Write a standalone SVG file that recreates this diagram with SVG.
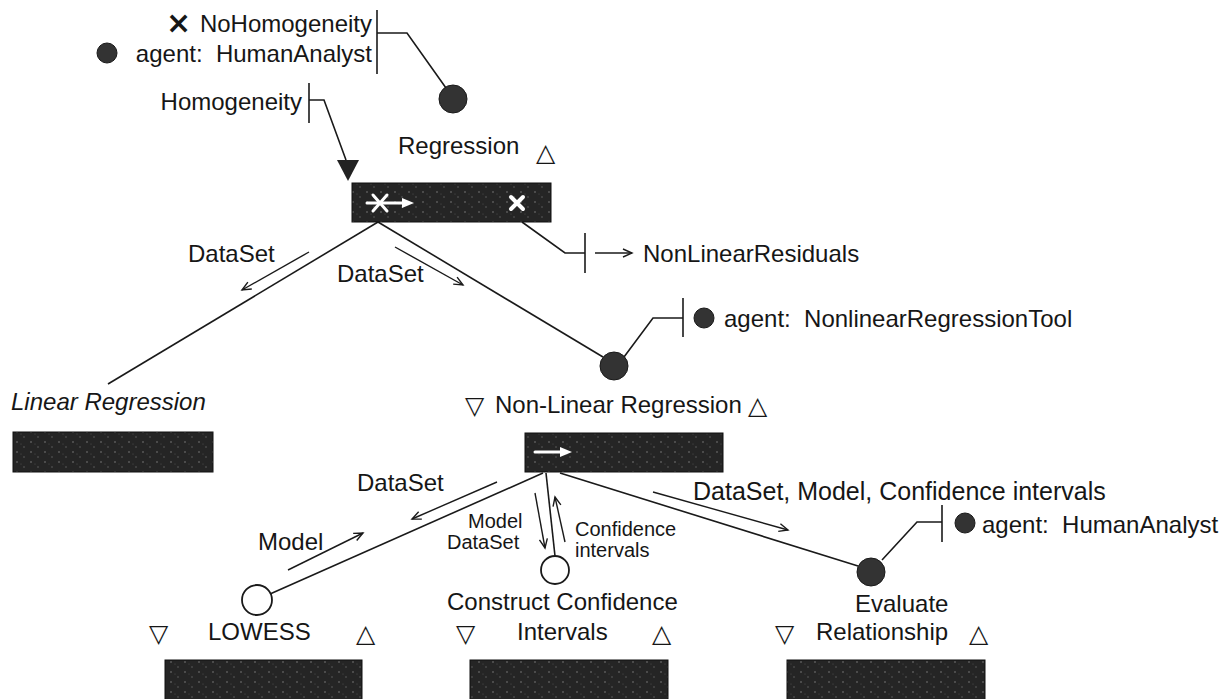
<svg xmlns="http://www.w3.org/2000/svg" width="1227" height="699" viewBox="0 0 1227 699">
<style>
.t{font-family:"Liberation Sans",Arial,sans-serif;font-size:24px;fill:#161616}
.s{font-size:20px}
.i{font-style:italic}
.sym{font-family:"DejaVu Sans",sans-serif;font-size:25px;fill:#161616}
.ln{fill:none;stroke:#1a1a1a;stroke-width:1.6}
.ar{fill:none;stroke:#1a1a1a;stroke-width:1.4;marker-end:url(#open)}
.blk{fill:url(#speck);stroke:#111;stroke-width:1}
.dot{fill:#333;stroke:#1a1a1a;stroke-width:1}
.hol{fill:#fff;stroke:#1a1a1a;stroke-width:1.8}
.wg{fill:none;stroke:#fff;stroke-width:3;stroke-linecap:round}
</style>
<defs>
<pattern id="speck" width="14" height="10" patternUnits="userSpaceOnUse">
<rect width="14" height="10" fill="#252525"/>
<circle cx="3" cy="2" r="0.8" fill="#7a7a7a"/>
<circle cx="10" cy="7" r="0.7" fill="#6a6a6a"/>
<circle cx="7" cy="4" r="0.5" fill="#555"/>
</pattern>
<marker id="open" markerWidth="12" markerHeight="10" refX="10" refY="5" orient="auto" markerUnits="userSpaceOnUse">
<path d="M1,1 L10,5 L1,9" fill="none" stroke="#1a1a1a" stroke-width="1.4"/>
</marker>
</defs>
<rect width="1227" height="699" fill="#fff"/>

<g id="connectors">
<path class="ln" d="M377,10 V74"/>
<path class="ln" d="M377,33 H407 L446,88"/>
<path class="ln" d="M309,83 V123"/>
<path class="ln" d="M309,100 H324 L346,160"/>
<polygon points="337,160 359,160 348,181" fill="#222"/>
<path class="ln" d="M378,222 L108,384"/>
<path class="ln" d="M378,222 L603,357"/>
<path class="ln" d="M522,222 L565,253 H585"/>
<path class="ln" d="M585,233 V273"/>
<path class="ar" d="M595,253 H632"/>
<path class="ar" d="M309,252 L242,290"/>
<path class="ar" d="M395,247 L463,285"/>
<path class="ln" d="M624,357 L653,318 H683"/>
<path class="ln" d="M683,298 V337"/>
<path class="ln" d="M543,473 L270,594"/>
<path class="ar" d="M497,482 L412,519"/>
<path class="ar" d="M288,570 L363,533"/>
<path class="ln" d="M546,473 L555,556"/>
<path class="ar" d="M535,493 L545,548"/>
<path class="ar" d="M565,542 L555,497"/>
<path class="ln" d="M560,473 L858,566"/>
<path class="ar" d="M653,492 L788,530"/>
<path class="ln" d="M882,560 L917,522 H942"/>
<path class="ln" d="M942,505 V542"/>
</g>

<g id="regression-annotations">
<text class="sym" x="166" y="33" style="font-size:30px;font-weight:bold">×</text>
<text class="t" x="372" y="32" text-anchor="end">NoHomogeneity</text>
<circle class="dot" cx="107" cy="53" r="10"/>
<text class="t" x="372" y="62" text-anchor="end">agent:&#160; HumanAnalyst</text>
<text class="t" x="302" y="110" text-anchor="end">Homogeneity</text>
<circle class="dot" cx="453" cy="99" r="14"/>
</g>

<g id="regression">
<text class="t" x="398" y="154">Regression</text>
<text class="sym" x="536" y="161">△</text>
<rect class="blk" x="352" y="183" width="199" height="39"/>
<path class="wg" d="M367,203 H404"/>
<path class="wg" d="M373,195 L387,211 M373,211 L387,195"/>
<path d="M402,198 L414,203 L402,208 Z" fill="#fff"/>
<path d="M511,197 L523,209 M511,209 L523,197" stroke="#fff" stroke-width="4" stroke-linecap="round"/>
</g>

<g id="nonlinear-residuals">
<text class="t" x="643" y="262">NonLinearResiduals</text>
</g>

<g id="linear-regression">
<text class="t i" x="11" y="410">Linear Regression</text>
<rect class="blk" x="13" y="432" width="200" height="40"/>
</g>

<g id="nonlinear-regression">
<circle class="dot" cx="614" cy="366" r="14"/>
<circle class="dot" cx="704" cy="318" r="10"/>
<text class="t" x="724" y="327">agent:&#160; NonlinearRegressionTool</text>
<text class="sym" x="465" y="414">▽</text>
<text class="t" x="495" y="413">Non-Linear Regression</text>
<text class="sym" x="748" y="414">△</text>
<rect class="blk" x="525" y="433" width="198" height="39"/>
<path class="wg" d="M535,452 H562"/>
<path d="M560,447 L572,452 L560,457 Z" fill="#fff"/>
</g>

<g id="flow-labels">
<text class="t" x="188" y="262">DataSet</text>
<text class="t" x="337" y="282">DataSet</text>
<text class="t" x="357" y="491">DataSet</text>
<text class="t" x="258" y="550">Model</text>
<text class="t s" x="468" y="528">Model</text>
<text class="t s" x="447" y="549">DataSet</text>
<text class="t s" x="575" y="536">Confidence</text>
<text class="t s" x="575" y="557">intervals</text>
<text class="t" x="693" y="500" style="font-size:25px">DataSet, Model, Confidence intervals</text>
</g>

<g id="lowess">
<circle class="hol" cx="257" cy="600" r="15"/>
<text class="sym" x="149" y="642">▽</text>
<text class="t" x="208" y="640">LOWESS</text>
<text class="sym" x="356" y="642">△</text>
<rect class="blk" x="165" y="660" width="197" height="45"/>
</g>

<g id="construct-confidence-intervals">
<circle class="hol" cx="555" cy="570" r="14"/>
<text class="t" x="447" y="610">Construct Confidence</text>
<text class="sym" x="456" y="642">▽</text>
<text class="t" x="517" y="640">Intervals</text>
<text class="sym" x="652" y="642">△</text>
<rect class="blk" x="470" y="660" width="198" height="45"/>
</g>

<g id="evaluate-relationship">
<circle class="dot" cx="871" cy="572" r="14"/>
<circle class="dot" cx="965" cy="523" r="10"/>
<text class="t" x="982" y="533">agent:&#160; HumanAnalyst</text>
<text class="t" x="855" y="612">Evaluate</text>
<text class="sym" x="775" y="642">▽</text>
<text class="t" x="816" y="640">Relationship</text>
<text class="sym" x="969" y="642">△</text>
<rect class="blk" x="787" y="660" width="198" height="45"/>
</g>
</svg>
